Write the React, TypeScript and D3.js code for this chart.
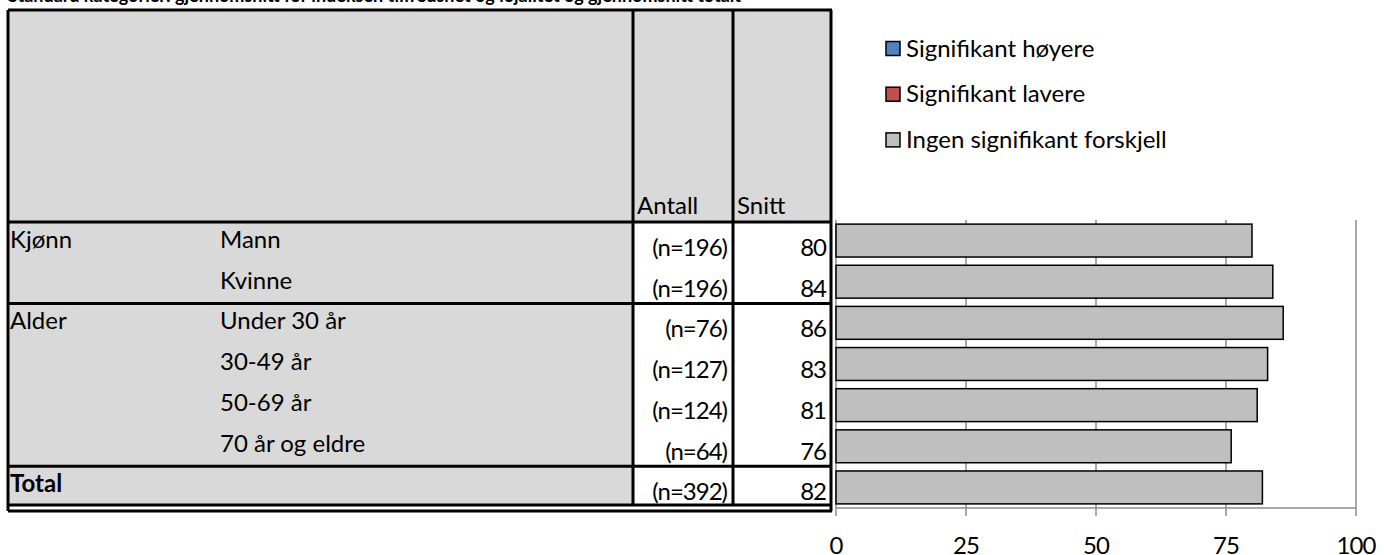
import * as d3 from "d3";

// table data
const groups = ["Kjønn", "", "Alder", "", "", "", "Total"];
const categories = ["Mann", "Kvinne", "Under 30 år", "30-49 år", "50-69 år", "70 år og eldre", ""];
const counts = ["(n=196)", "(n=196)", "(n=76)", "(n=127)", "(n=124)", "(n=64)", "(n=392)"];
const means = [80, 84, 86, 83, 81, 76, 82];
const signif = ["none", "none", "none", "none", "none", "none", "none"];

const legendLabels = ["Signifikant høyere", "Signifikant lavere", "Ingen signifikant forskjell"];
const legendKeys = ["high", "low", "none"];
const xTicks = [0, 25, 50, 75, 100];

const TITLE = "Standard kategorier: gjennomsnitt for indeksen tilfredshet og lojalitet og gjennomsnitt totalt";

const FONT = "Lato, 'Open Sans', sans-serif";
const FS = 24;
const NUM_SPACING = -1; // Lato digits are wider than the original's
const colors: Record<string, string> = { high: "#4f81bd", low: "#c0504d", none: "#bfbfbf" };

export default function App() {
  const W = 1384, H = 555;
  const T = { left: 8, top: 10, col1: 633, col2: 733, right: 831, headBottom: 222 };
  const ids = d3.range(means.length).map(String);

  const rowY = d3.scaleBand<string>().domain(ids).range([222, 507]);
  const barY = d3.scaleBand<string>().domain(ids).range([220, 508]).paddingInner(0.2).paddingOuter(0.1);
  const x = d3.scaleLinear().domain([0, 100]).range([836, 1356]);

  const groupBreaks = ids.filter((id, i) => i > 0 && groups[i] !== "");
  const tableBottom = rowY(ids[ids.length - 1])! + rowY.bandwidth() - 2;

  return (
    <svg width={W} height={H} style={{ position: "absolute", left: 0, top: 0, display: "block" }} fontFamily={FONT}>
      <rect width={W} height={H} fill="#fff" />
      <text x={8} y={2} fontSize={18} fontWeight="bold">{TITLE}</text>

      {/* table backgrounds */}
      <rect x={T.left} y={T.top} width={T.right - T.left} height={T.headBottom - T.top} fill="#d9d9d9" />
      <rect x={T.left} y={T.headBottom} width={T.col1 - T.left} height={tableBottom - T.headBottom} fill="#d9d9d9" />

      <text x={T.col1 + 4} y={214} fontSize={FS}>Antall</text>
      <text x={T.col2 + 4} y={214} fontSize={FS}>Snitt</text>

      {ids.map((id, i) => {
        const top = rowY(id)!;
        return (
          <g key={id} fontSize={FS}>
            <text x={10} y={top + 26} fontWeight={groups[i] === "Total" ? "bold" : "normal"}>{groups[i]}</text>
            <text x={220} y={top + 26}>{categories[i]}</text>
            <text x={T.col2 - 6} y={top + 34} textAnchor="end" letterSpacing={NUM_SPACING}>{counts[i]}</text>
            <text x={T.right - 5} y={top + 34} textAnchor="end" letterSpacing={NUM_SPACING}>{means[i]}</text>
          </g>
        );
      })}

      {/* table lines */}
      <g stroke="#000" strokeWidth={3} fill="none">
        <line x1={T.left} x2={T.right + 1} y1={T.top} y2={T.top} />
        <line x1={T.left} x2={T.left} y1={T.top} y2={tableBottom + 6} />
        <line x1={T.col1} x2={T.col1} y1={T.top} y2={tableBottom} />
        <line x1={T.col2} x2={T.col2} y1={T.top} y2={tableBottom} />
        <line x1={T.right} x2={T.right} y1={T.top} y2={tableBottom + 6} />
        <line x1={T.left} x2={T.right + 1} y1={T.headBottom} y2={T.headBottom} />
        {groupBreaks.map((id) => (
          <line key={id} x1={T.left} x2={T.right + 1} y1={rowY(id)!} y2={rowY(id)!} />
        ))}
        <line x1={T.left} x2={T.right + 1} y1={tableBottom} y2={tableBottom} />
        <line x1={T.left} x2={T.right + 1} y1={tableBottom + 6} y2={tableBottom + 6} />
      </g>

      {/* chart grid and axes */}
      <g stroke="#8c8c8c" strokeWidth={1.5}>
        {xTicks.map((t) => (
          <line key={t} x1={x(t)} x2={x(t)} y1={220} y2={516} />
        ))}
        <line x1={x(0)} x2={x(100)} y1={508} y2={508} />
      </g>

      {ids.map((id, i) => (
        <rect
          key={id}
          x={x(0)}
          y={barY(id)!}
          width={x(means[i]) - x(0)}
          height={barY.bandwidth()}
          fill={colors[signif[i]]}
          stroke="#000"
          strokeWidth={1.5}
        />
      ))}

      {xTicks.map((t) => (
        <text key={t} x={x(t)} y={554} fontSize={FS} textAnchor="middle" letterSpacing={NUM_SPACING}>{t}</text>
      ))}

      {/* legend */}
      {legendKeys.map((k, i) => {
        const cy = 48.5 + i * 45.7;
        return (
          <g key={k}>
            <rect x={886} y={cy - 7} width={14} height={14} fill={colors[k]} stroke="#000" strokeWidth={1.5} />
            <text x={906} y={cy + 8} fontSize={FS}>{legendLabels[i]}</text>
          </g>
        );
      })}
    </svg>
  );
}
